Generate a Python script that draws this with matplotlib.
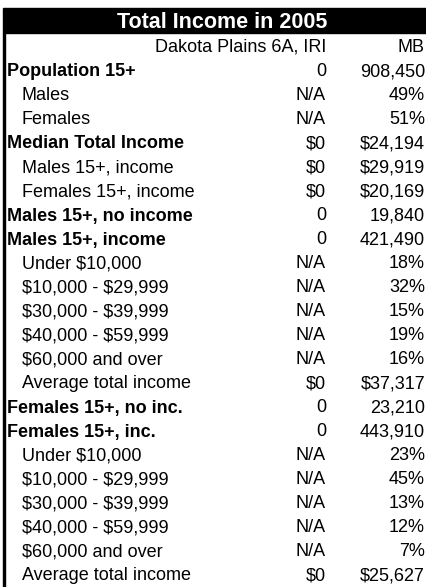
import matplotlib.pyplot as plt
from matplotlib.patches import Rectangle

plt.rcParams['font.family'] = ['Liberation Sans', 'DejaVu Sans']
plt.rcParams['text.parse_math'] = False

title = "Total Income in 2005"
col_heads = ["Dakota Plains 6A, IRI", "MB"]

# row labels, whether the row is a sub item, and the two value columns
labels = [
    "Population 15+", "Males", "Females",
    "Median Total Income", "Males 15+, income", "Females 15+, income",
    "Males 15+, no income", "Males 15+, income",
    "Under $10,000", "$10,000 - $29,999", "$30,000 - $39,999",
    "$40,000 - $59,999", "$60,000 and over", "Average total income",
    "Females 15+, no inc.", "Females 15+, inc.",
    "Under $10,000", "$10,000 - $29,999", "$30,000 - $39,999",
    "$40,000 - $59,999", "$60,000 and over", "Average total income",
]
sub_item = [False, True, True,
            False, True, True,
            False, False,
            True, True, True, True, True, True,
            False, False,
            True, True, True, True, True, True]
area = ["0", "N/A", "N/A",
        "$0", "$0", "$0",
        "0", "0",
        "N/A", "N/A", "N/A", "N/A", "N/A", "$0",
        "0", "0",
        "N/A", "N/A", "N/A", "N/A", "N/A", "$0"]
province = ["908,450", "49%", "51%",
            "$24,194", "$29,919", "$20,169",
            "19,840", "421,490",
            "18%", "32%", "15%", "19%", "16%", "$37,317",
            "23,210", "443,910",
            "23%", "45%", "13%", "12%", "7%", "$25,627"]

W, H = 427, 587
fig = plt.figure(figsize=(W / 100, H / 100), dpi=100)
ax = fig.add_axes([0, 0, 1, 1])
ax.set_xlim(0, W)
ax.set_ylim(H, 0)
ax.axis('off')

fs = 13
# title bar
ax.add_patch(Rectangle((3, 8), W - 3, 25, color='black'))
ax.text(222, 20.5 + 7.5, title, color='white', fontsize=15.5, fontweight='bold',
        ha='center', va='baseline')
# left border
ax.add_patch(Rectangle((3, 33), 2.2, H - 33, color='black'))

x_lab, x_sub, x_c1, x_c2 = 7, 22, 326, 425

ax.text(x_c1, 46 + 6, col_heads[0], fontsize=fs, ha='right', va='baseline')
ax.text(x_c2, 46 + 6, col_heads[1], fontsize=fs, ha='right', va='baseline')

for i, (lab, sub, a, p) in enumerate(zip(labels, sub_item, area, province)):
    y = 70 + 24 * i + 6.5
    ax.text(x_sub if sub else x_lab, y, lab, fontsize=fs,
            fontweight='normal' if sub else 'bold', va='baseline')
    ax.text(x_c1, y, a, fontsize=fs, ha='right', va='baseline')
    ax.text(x_c2, y, p, fontsize=fs, ha='right', va='baseline')

fig.savefig('out.png', dpi=100, facecolor='white')
